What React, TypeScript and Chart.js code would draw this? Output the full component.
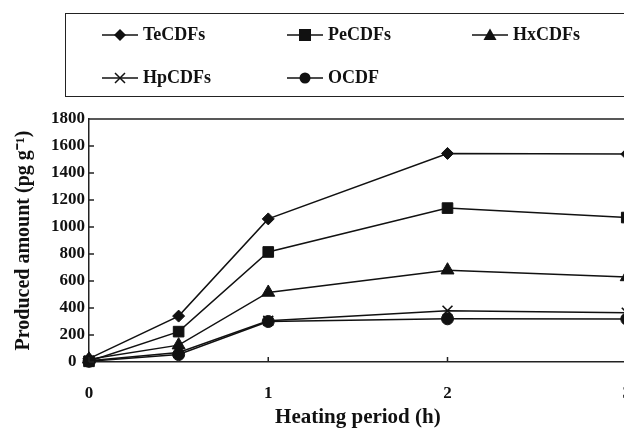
import React, { useEffect, useRef } from "react";
import { Chart, registerables } from "chart.js";
Chart.register(...registerables);

const hours = [0, 0.5, 1, 2, 3];
const teCDFs = [25, 340, 1060, 1545, 1540];
const peCDFs = [5, 225, 815, 1140, 1070];
const hxCDFs = [20, 125, 515, 680, 630];
const hpCDFs = [10, 70, 305, 380, 365];
const ocdf = [5, 55, 300, 320, 318];
const seriesNames = ["TeCDFs", "PeCDFs", "HxCDFs", "HpCDFs", "OCDF"];
const yMin = 0;
const yMax = 1800;
const yStep = 200;
const xMin = 0;
const xMax = 3;
const xTitle = "Heating period (h)";
const yTitle = "Produced amount (pg g\u207B\u00B9)";

const FONT = '"Liberation Serif", "Times New Roman", serif';
const INK = "#111";

const styles = ["rectRot", "rect", "triangle", "crossRot", "circle"];
const radii = [6, 7.5, 7.5, 7, 6];

function LegendMark({ kind }: { kind: string }) {
  const cx = 18;
  const cy = 8;
  let shape: any = null;
  if (kind === "rectRot") shape = <polygon points={`${cx},${cy - 6} ${cx + 6},${cy} ${cx},${cy + 6} ${cx - 6},${cy}`} fill={INK} />;
  if (kind === "rect") shape = <rect x={cx - 6} y={cy - 6} width={12} height={12} fill={INK} />;
  if (kind === "triangle") shape = <polygon points={`${cx},${cy - 6.5} ${cx + 6.5},${cy + 5} ${cx - 6.5},${cy + 5}`} fill={INK} />;
  if (kind === "crossRot") shape = <path d={`M${cx - 5},${cy - 5} L${cx + 5},${cy + 5} M${cx + 5},${cy - 5} L${cx - 5},${cy + 5}`} stroke={INK} strokeWidth={1.5} />;
  if (kind === "circle") shape = <circle cx={cx} cy={cy} r={5.5} fill={INK} />;
  return (
    <svg width={36} height={16} style={{ position: "absolute", left: 0, top: -8 }}>
      <line x1={0} y1={cy} x2={36} y2={cy} stroke={INK} strokeWidth={1.5} />
      {shape}
    </svg>
  );
}

export default function App() {
  const ref = useRef<HTMLCanvasElement | null>(null);

  useEffect(() => {
    document.body.style.margin = "0";
    document.body.style.overflow = "hidden";
    const seriesData = [teCDFs, peCDFs, hxCDFs, hpCDFs, ocdf];
    const datasets = seriesData.map((vals, i) => ({
      label: seriesNames[i],
      data: vals.map((v, j) => ({ x: hours[j], y: v })),
      borderColor: INK,
      backgroundColor: INK,
      borderWidth: 1.5,
      pointStyle: styles[i] as any,
      pointRadius: radii[i],
      pointBackgroundColor: INK,
      pointBorderColor: INK,
      pointBorderWidth: styles[i] === "crossRot" ? 1.6 : 1,
      tension: 0,
      clip: false as any,
    }));

    const frame = {
      id: "frame",
      afterDraw(chart: any) {
        const { ctx, chartArea, scales } = chart;
        const { left, right, top, bottom } = chartArea;
        ctx.save();
        ctx.strokeStyle = "#222";
        ctx.lineWidth = 1.5;
        ctx.beginPath();
        ctx.moveTo(left, top);
        ctx.lineTo(right, top);
        scales.y.ticks.forEach((t: any) => {
          const py = scales.y.getPixelForValue(t.value);
          ctx.moveTo(left, py);
          ctx.lineTo(left + 5, py);
        });
        scales.x.ticks.forEach((t: any) => {
          const px = scales.x.getPixelForValue(t.value);
          ctx.moveTo(px, bottom);
          ctx.lineTo(px, bottom - 5);
        });
        ctx.stroke();
        ctx.restore();
      },
    };

    const chart = new Chart(ref.current as HTMLCanvasElement, {
      type: "line",
      data: { datasets },
      plugins: [frame],
      options: {
        animation: false,
        responsive: false,
        layout: { padding: { top: 119, right: 13, left: 0, bottom: 0 } },
        plugins: { legend: { display: false }, tooltip: { enabled: false } },
        scales: {
          x: {
            type: "linear",
            min: xMin,
            max: xMax,
            offset: false,
            ticks: { stepSize: 1, color: INK, padding: 21, font: { family: FONT, size: 17, weight: "bold" }, callback: (v: any) => String(v) },
            grid: { display: false, drawTicks: false },
            border: { display: true, color: "#222", width: 1.5 },
            title: { display: true, text: xTitle, color: INK, padding: { top: 0, bottom: 0 }, font: { family: FONT, size: 21, weight: "bold", lineHeight: 1 } },
            afterFit: (s: any) => { s.height = 66; },
          },
          y: {
            type: "linear",
            min: yMin,
            max: yMax,
            ticks: { stepSize: yStep, color: INK, padding: 4, font: { family: FONT, size: 17, weight: "bold" }, callback: (v: any) => (v === 0 ? "0\u00A0\u00A0" : String(v)) },
            grid: { display: false, drawTicks: false },
            border: { display: true, color: "#222", width: 1.5 },
            title: { display: true, text: yTitle, color: INK, padding: { top: 14, bottom: 0 }, font: { family: FONT, size: 20, weight: "bold", lineHeight: 1 } },
            afterFit: (s: any) => { s.width = 89; },
          },
        },
      } as any,
    });
    return () => chart.destroy();
  }, []);

  const cols = [102, 287, 472];
  const rows = [35, 78];
  const items = seriesNames.map((n, i) => ({ name: n, kind: styles[i], x: cols[i % 3], y: rows[Math.floor(i / 3)] }));

  return (
    <div style={{ position: "fixed", left: 0, top: 0, width: 624, height: 428, overflow: "hidden", background: "#fff" }}>
      <canvas ref={ref} width={652} height={428} style={{ position: "absolute", left: 0, top: 0, width: 652, height: 428 }} />
      <div style={{ position: "absolute", left: 65, top: 13, width: 620, height: 82, border: "1.5px solid #222" }} />
      {items.map((it) => (
        <div key={it.name} style={{ position: "absolute", left: it.x, top: it.y, height: 0 }}>
          <LegendMark kind={it.kind} />
          <span style={{ position: "absolute", left: 41, top: -11, fontFamily: FONT, fontWeight: "bold", fontSize: 18, lineHeight: "20px", color: INK, whiteSpace: "nowrap" }}>{it.name}</span>
        </div>
      ))}
    </div>
  );
}
